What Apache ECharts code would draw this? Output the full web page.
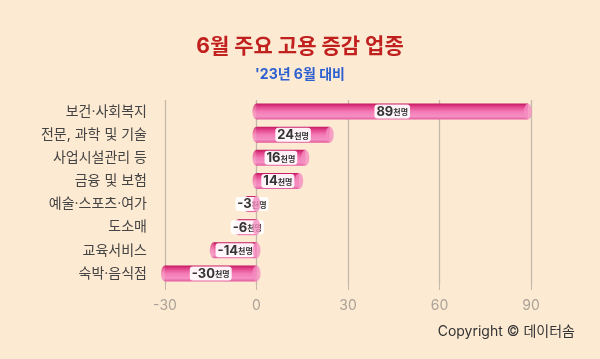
<!DOCTYPE html>
<html><head><meta charset="utf-8">
<script src="https://cdn.jsdelivr.net/npm/echarts@6/dist/echarts.min.js"></script>
<style>html,body{margin:0;padding:0;background:#fdead3;}#c{width:600px;height:359px;}</style>
</head><body><div id="c"></div>
<script>
const categories = ['보건·사회복지','전문, 과학 및 기술','사업시설관리 등','금융 및 보험','예술·스포츠·여가','도소매','교육서비스','숙박·음식점'];
const values = [89, 24, 16, 14, -3, -6, -14, -30];
const xTicks = [-30, 0, 30, 60, 90];
const unit = '천명';

const font = 'Inter, "Noto Sans CJK KR", "Noto Sans", sans-serif';
const chart = echarts.init(document.getElementById('c'));
const barGrad = new echarts.graphic.LinearGradient(0,0,0,1,[
  {offset:0,color:'#c4175f'},
  {offset:0.2,color:'#e2448b'},
  {offset:0.5,color:'#f37ab5'},
  {offset:0.8,color:'#f590c3'},
  {offset:1,color:'#e45a9c'}
]);
chart.setOption({
  backgroundColor:'#fdead3',
  textStyle:{fontFamily:font},
  title:[
    {text:'6월 주요 고용 증감 업종',left:'center',top:31,textStyle:{fontSize:21,fontWeight:'bold',color:'#c0201e',fontFamily:font}},
    {text:"'23년 6월 대비",left:'center',top:63,textStyle:{fontSize:14,fontWeight:'bold',color:'#2c5fd0',fontFamily:font}},
    {text:'Copyright © 데이터솜',right:20,top:320,textStyle:{fontSize:14,fontWeight:'normal',color:'#333',fontFamily:font}}
  ],
  grid:{left:165,right:69,top:100,bottom:74},
  xAxis:{type:'value',min:xTicks[0],max:xTicks[xTicks.length-1],interval:30,
    axisLine:{show:false},
    axisTick:{show:true,length:5,lineStyle:{color:'#c4b8aa'}},
    splitLine:{show:true,lineStyle:{color:'#c4b8aa',width:1.3}},
    axisLabel:{color:'#aaa298',fontSize:14,margin:14,fontFamily:font}
  },
  yAxis:{type:'category',data:categories,inverse:true,
    axisLine:{show:false},axisTick:{show:false},
    axisLabel:{color:'#444',fontSize:14,margin:18,fontFamily:font}
  },
  series:[
    {type:'scatter',data:values.map((v,i)=>[Math.min(v,0),i]),symbol:'circle',symbolSize:[8,16],
      itemStyle:{color:barGrad},silent:true,z:1},
    {type:'bar',data:values,barWidth:16,
      itemStyle:{color:barGrad},
      label:{show:true,position:'inside',
        formatter:p=>'{n|'+p.value+'}{u|'+unit+'}',
        backgroundColor:'rgba(255,255,255,0.92)',borderRadius:3,padding:[1,2,0,2],
        rich:{n:{fontSize:13,fontWeight:'bold',color:'#333',fontFamily:font},u:{fontSize:8,fontWeight:'bold',color:'#333',fontFamily:font,padding:[2,0,0,0]}}
      },
      z:2
    },
    {type:'scatter',data:values.map((v,i)=>[Math.max(v,0),i]),symbol:'circle',symbolSize:[8,16],
      itemStyle:{color:'#f48fc1'},silent:true,z:3}
  ]
});
</script></body></html>
